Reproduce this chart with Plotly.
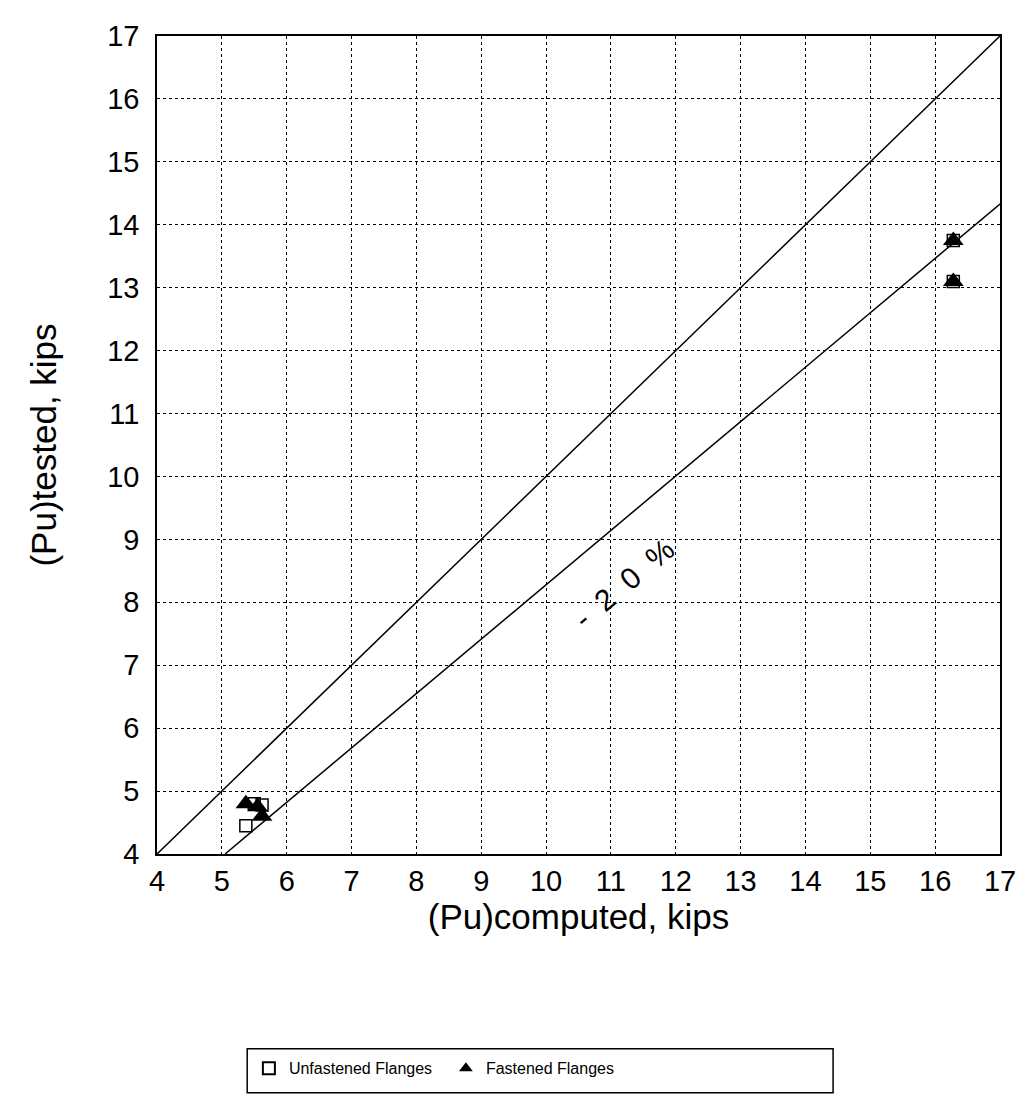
import plotly.graph_objects as go

# Data
unf_x = [5.37, 5.50, 5.62, 16.28, 16.28]
unf_y = [4.45, 4.80, 4.78, 13.75, 13.10]
fas_x = [5.37, 5.55, 5.62, 16.28, 16.28]
fas_y = [4.80, 4.75, 4.60, 13.75, 13.10]
eq_x = [4, 17]
eq_y = [4, 17]
m20_x = [5.05, 17]
m20_y = [4.0, 14.33]
ticks = list(range(4, 18))
label_text = "-\u00a0 2\u00a0 0\u00a0 %"
x_title = "(Pu)computed, kips"
y_title = "(Pu)tested, kips"

FONT = "Liberation Sans, Arial"

fig = go.Figure()
fig.add_trace(go.Scatter(x=eq_x, y=eq_y, mode="lines", line=dict(color="black", width=1.5),
                         showlegend=False, hoverinfo="skip"))
fig.add_trace(go.Scatter(x=m20_x, y=m20_y, mode="lines", line=dict(color="black", width=1.5),
                         showlegend=False, hoverinfo="skip"))
fig.add_trace(go.Scatter(x=unf_x, y=unf_y, mode="markers", name="Unfastened Flanges",
                         marker=dict(symbol="square-open", size=12, color="black",
                                     line=dict(width=1.5, color="black"))))
fig.add_trace(go.Scatter(x=fas_x, y=fas_y, mode="markers", name="Fastened Flanges",
                         marker=dict(symbol="triangle-up", size=18, color="black")))

fig.add_annotation(x=11.2, y=8.3, text=label_text, showarrow=False, textangle=-40,
                   font=dict(family=FONT, size=30, color="black"))

# legend box
fig.add_shape(type="rect", xref="paper", yref="paper", x0=0.107, x1=0.802, y0=-0.292, y1=-0.238,
              line=dict(color="black", width=1.5), fillcolor="rgba(0,0,0,0)")

axis_common = dict(range=[4, 17], tickmode="array", tickvals=ticks, ticktext=[str(t) for t in ticks],
                   showgrid=True, gridcolor="black", griddash="dot", gridwidth=1,
                   showline=True, linecolor="black", linewidth=1.5, mirror=True,
                   zeroline=False, ticks="",
                   tickfont=dict(family=FONT, size=29, color="black"))

fig.update_xaxes(**axis_common, ticklabelstandoff=0,
                 title=dict(text=x_title, standoff=0,
                            font=dict(family=FONT, size=35, color="black")))
fig.update_yaxes(**axis_common, ticklabelstandoff=10,
                 title=dict(text=y_title, standoff=40,
                            font=dict(family=FONT, size=35, color="black")))

fig.update_layout(
    width=1026, height=1106,
    margin=dict(l=149, r=34, t=22, b=260),
    plot_bgcolor="white", paper_bgcolor="white",
    showlegend=True,
    legend=dict(orientation="h", x=0.109, y=-0.262, xanchor="left", yanchor="middle",
                bgcolor="rgba(0,0,0,0)", borderwidth=0, entrywidth=152,
                font=dict(family=FONT, size=16, color="black"),
                itemsizing="constant"),
)

fig.write_html("out.html")
